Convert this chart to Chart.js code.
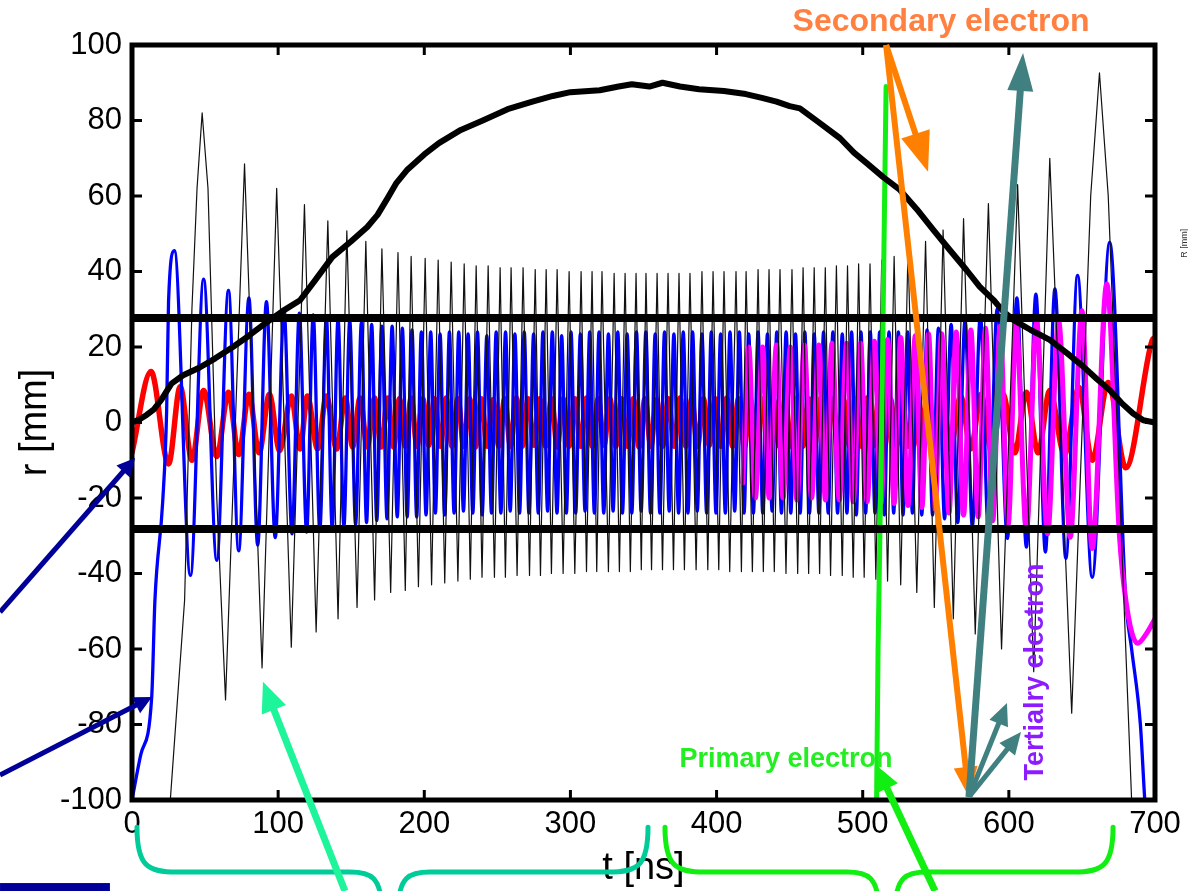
<!DOCTYPE html>
<html>
<head>
<meta charset="utf-8">
<title>r vs t</title>
<script src="https://cdn.jsdelivr.net/npm/chart.js@4.4.1/dist/chart.umd.min.js"></script>
<style>
  html, body { margin: 0; padding: 0; background: #fff; }
  canvas { display: block; }
</style>
</head>
<body>
<canvas id="grafico" width="1188" height="891"></canvas>
<script>
// Valores: t [ns] contra r [mm]
const tTicks = [0, 100, 200, 300, 400, 500, 600, 700];
const rTicks = [-100, -80, -60, -40, -20, 0, 20, 40, 60, 80, 100];

// Envolvente del haz (línea negra gruesa)
const envolvente = [
  [0, 0], [5, 0.8], [10, 2], [15, 3.5], [20, 6], [27, 10.3], [35, 12.5], [46, 14.5], [57, 17], [69, 20],
  [80, 23], [92, 26.5], [103, 29.5], [115, 32.4], [125, 37.5], [137, 43.8], [150, 48], [161, 51.8], [168, 55], [175, 59.5],
  [181, 63.5], [188, 66.8], [200, 71], [210, 74], [225, 77.5], [240, 80], [257, 83], [274, 85], [288, 86.5], [300, 87.5],
  [320, 88], [333, 89], [342, 89.6], [354, 89], [363, 90], [375, 89], [388, 88.3], [405, 87.8], [420, 87], [431, 86],
  [441, 85], [450, 83.8], [457, 83.2], [470, 79.5], [484.5, 75.3], [494, 71.5], [502.7, 68.7], [514, 65], [525.5, 61.6], [537, 56.5],
  [548.3, 51], [560, 45.5], [571, 40.4], [580, 36], [589.4, 32.5], [596, 29.5], [603, 27.2], [615, 24.5], [628, 21.9], [640, 18.3],
  [651, 14.8], [660, 11.6], [669, 8.6], [677, 5.2], [685, 2.4], [692, 0.6], [700, 0]
];

// Paredes a ±28 mm
const paredSup = [[0, 27.7], [700, 27.7]];
const paredInf = [[0, -28.2], [700, -28.2]];

// Trayectoria fina negra
const electronNegro = [
  [24, -112], [36, -47], [41, 30], [44.5, 62], [48, 82], [52, 62], [58, -20],
  [64, -73.5], [77, 68.5], [89, -65], [99, 62], [109, -59.5], [118, 57.7], [126, -55.5], [134, 53.4], [141, -52], [147, 50.8], [154, -49], [160, 48], [166, -47], [171, 46], [177, -45], [182, 45],
  [187, -44.5], [191, 44], [196, -43.5], [200.6, 43.5], [205, -43], [209.5, 43], [214, -42.5], [218.4, 42.5], [223, -42], [227.3, 42],
  [231.5, -41.5], [235.5, 41.5], [239.5, -41], [243.7, 41.5], [248, -41], [251.9, 41], [255.5, -41], [259.4, 41], [263.5, -40.5], [267.6, 41],
  [272, -40.5], [275.9, 40.5], [279.5, -40.5], [283.4, 40.5], [287, -40], [290.9, 40.5], [295, -40], [299.1, 40], [303, -40], [307.3, 40],
  [311, -39.5], [314.8, 40], [318, -39.5], [321.6, 40], [326, -39.5], [329.9, 39.5], [333.5, -39.5], [337.4, 39.5], [341, -39.5], [344.9, 39.5],
  [348.5, -39], [351.7, 39.5], [355.5, -39], [359.3, 39.5], [363, -39], [366.8, 39.5], [370.5, -39], [374.3, 39.5], [378, -39], [381.8, 39.5],
  [386, -39], [390, 40], [394, -39], [397.6, 40], [401.5, -39], [405.1, 40], [409, -39.5], [413.3, 40], [417, -39.5], [420.2, 40],
  [424.5, -39.5], [428.4, 40.5], [432, -39.5], [435.9, 40.5], [439.5, -39.5], [443.4, 40.5], [447.5, -40], [451.6, 40.5], [455.5, -40], [459.2, 41],
  [463, -40], [466.8, 41], [470.5, -40], [474.4, 41], [478, -40.5], [482, 41.5], [486, -40.5], [489.6, 41.5], [493.5, -41], [497.2, 42],
  [501, -41], [505, 42], [509, -41.5], [513, 43], [517, -42], [521.5, 44], [526, -43], [531, 46], [537, -45], [543, 48],
  [549, -49], [555, 51], [562, -52], [569, 54], [577, -56], [586, 58], [595, -60], [606, 63], [617, -66], [628, 70],
  [643, -77], [656, 60], [662, 92.6], [668, 60], [684, -100], [690, -112]
];

// Trayectoria azul
const electronAzul = [
  [0, -100], [6, -88], [13.5, -72.6], [15.7, -47], [21, -21], [23.7, 3], [25, 32], [29, 45.5],
  [40, -40.5], [49, 38], [58, -36.5], [66, 35], [73, -34], [80, 33], [86, -32.5], [92, 32], [98, -30.5], [104, 30],
  [109.5, -29.5], [114.5, 29], [119.5, -29], [124, 28.5], [128.5, -28.5], [133, 28], [137, -28], [141, 27.5], [145, -27.5], [149, 27],
  [153, -27], [157, 26.5], [160.5, -26.5], [164, 26], [167.5, -26], [171, 25.5], [174.5, -25.5], [178, 25.5], [181.5, -25], [185, 25], [188.3, -25],
  [191.6, 24.5], [194.8, -25], [198, 24], [201.2, -24.5], [204.4, 24], [207.6, -24], [210.8, 23.5], [214, -24.5], [217.2, 24], [220.4, -24],
  [223.6, 24], [226.8, -23.5], [230, 23.5], [233.2, -24], [236.4, 24], [239.6, -24.5], [242.8, 23], [246, -24], [249.2, 24], [252.4, -24],
  [255.6, 24], [258.8, -23.5], [262, 23.5], [265.2, -24], [268.4, 24], [271.6, -24], [274.8, 23.5], [278, -24], [281.2, 24], [284.4, -23.5],
  [287.6, 24], [290.8, -24], [294, 23], [297.2, -24], [300.4, 24], [303.6, -24], [306.8, 23.5], [310, -23.5], [313.2, 24], [316.4, -24],
  [319.6, 24], [322.8, -24], [326, 23.5], [329.2, -23.5], [332.4, 24], [335.6, -24], [338.8, 23.5], [342, -24], [345.2, 24], [348.4, -23.5],
  [351.6, 24], [354.8, -24], [358, 23.5], [361.2, -24], [364.4, 24], [367.6, -23.5], [370.8, 23.5], [374, -24], [377.2, 24], [380.4, -24],
  [383.6, 24], [386.8, -23.5], [390, 23.5], [393.2, -24], [396.4, 24], [399.6, -24], [402.8, 23.5], [406, -24], [409.2, 24], [412.4, -23.5],
  [415.6, 24], [418.8, -24], [422, 23.5], [425.2, -24], [428.4, 24], [431.6, -24], [434.8, 23.5], [438, -23.5], [441.2, 24], [444.4, -24],
  [447.6, 24], [450.8, -24], [454, 23.5], [457.2, -24], [460.4, 24], [463.6, -24], [466.8, 23.5], [470, -24], [473.2, 24], [476.4, -24],
  [479.6, 24], [482.8, -24], [486, 23.5], [489.2, -24], [492.4, 24], [495.6, -24.5], [498.8, 24], [502, -24], [505.2, 24], [508.4, -24],
  [511.6, 24], [514.8, -24.5], [518, 24], [521.2, -24], [524.4, 24], [527.6, -24.5], [530.8, 24], [534, -24], [537.2, 24.5], [540.4, -24.5],
  [544, 24.5], [547.8, -24.5], [551.8, 25], [556, -25.5], [560.5, 26], [565, -26.5], [570, 27], [575, -27.5], [580.5, 28.5], [586, -29],
  [592, 30], [599, -30.7], [605.5, 33], [612, -33], [618.5, 34], [625, -34.3], [631.5, 35.4], [639, -36], [647, 39], [657, -41],
  [669, 47.7], [680, -47], [684, -60], [690, -80], [693, -100], [695, -110]
];

// Trayectoria roja
const electronRojo = [
  [0, -8], [13, 13.5], [25, -11], [33, 9.5], [41, -10], [49, 8.5], [58, -9], [66, 8], [73, -8.5], [80, 7.5],
  [87, -8], [94, 7.5], [101, -7.5], [109, 7], [115, -7], [120, 7], [127, -7], [133, 7], [140, -7], [146, 6.5],
  [151, -6.5], [156, 6.5], [161, -6.5], [166, 6.5], [170.5, -6.5], [175, 6.5], [179, -6.5],
  [183, 6.3], [187, -6.3], [191, 6.5], [195, -6.3], [199, 6.3], [203, -6], [207, 6.3], [211, -6.3], [215, 6.5], [219, -6.3],
  [223, 6.3], [227, -6.3], [231, 6.3], [235, -6.5], [239, 6.3], [243, -6.3], [247, 6], [251, -6.3], [255, 6.3], [259, -6.3],
  [263, 6.5], [267, -6.3], [271, 6.3], [275, -6], [279, 6.3], [283, -6.3], [287, 6.3], [291, -6.5], [295, 6.3], [299, -6.3],
  [303, 6.3], [307, -6.3], [311, 6.5], [315, -6.3], [319, 6.3], [323, -6], [327, 6.3], [331, -6.3], [335, 6.3], [339, -6.3],
  [343, 6.3], [347, -6.5], [351, 6.3], [355, -6.3], [359, 6], [363, -6.3], [367, 6.3], [371, -6.3], [375, 6.5], [379, -6.3],
  [383, 6.3], [387, -6.3], [391, 6.3], [395, -6], [399, 6.3], [403, -6.3], [407, 6.5], [411, -6.3], [415, 6.3], [419, -6.5],
  [423, 6.3], [427, -6.3], [431, 6.3], [435, -6.3], [439, 6], [443, -6.3], [447, 6.3], [451, -6.3], [455, 6.5], [459, -6.3],
  [463, 6.3], [467, -6.3], [471, 6.3], [475, -6.5], [479, 6.3], [483, -6.3], [487, 6], [491, -6.3], [495, 6.3], [499, -6.3],
  [503, 6.5], [507, -6.3], [511, 6.3], [515, -6.3], [519, 6.3], [523, -6.3], [527, 6.5], [531, -6.3], [535, 6.3], [539, -6.3],
  [544, 6.5], [549, -6.5], [555, 6.5], [560, -7], [567, 7], [574, -7], [581, 7.5], [588, -7.5], [596, 7.5], [604, -8],
  [612, 8], [620, -8], [628, 8.5], [638, -8.5], [648, 9.3], [657, -10], [668, 10.6], [680, -12], [698, 21.7], [700, 22.5]
];

// Trayectoria magenta
const electronMagenta = [
  [418, -16], [422, 20], [426.5, -20], [431.5, 20], [436, -20], [441, 20.5], [445.5, -20], [450.5, 20], [455, -20.5], [460, 20.5],
  [465, -20], [470, 20.5], [474.5, -20.5], [479, 21], [484, -20.5], [489, 21], [493.5, -21], [498.5, 21], [503, -21], [508, 21.5],
  [512.5, -21.5], [517, 22], [521.5, -21.5], [526, 22.5], [531, -22], [536, 23], [540.5, -22.5], [545, 23.5], [549.5, -23], [554, 23.5],
  [559, -24], [564, 24], [569, -24.5], [574, 24.5], [579, -25], [584, 25], [589, -26], [594, 25.5], [599.5, -27], [605, 26],
  [612, -28.6], [619, 26.5], [626.5, -29.5], [634, 27], [642, -30.4], [650, 29.6], [657, -33.4], [667, 36.7], [675.5, -29], [680, -47],
  [688, -58.5], [694, -56], [700, -52]
];

// Traza del electrón primario (verde)
const primario = [[509.5, -100], [510.5, -60], [513, 0], [515, 60], [516, 89]];

const fuente = '"Liberation Sans", Arial, Helvetica, sans-serif';

const pts = arr => arr.map(([t, r]) => ({ x: t, y: r }));

function serie(datos, color, ancho, orden, suave) {
  return {
    data: pts(datos),
    borderColor: color,
    borderWidth: ancho,
    order: orden,
    pointRadius: 0,
    fill: false,
    tension: 0,
    cubicInterpolationMode: suave ? 'monotone' : 'default',
    borderJoinStyle: 'round',
    borderCapStyle: 'round',
    clip: 0
  };
}

// Anotaciones (en unidades de datos)
const flechas = [
  { de: [516, 100], a: [572.7, -99.2], color: '#ff8000', ancho: 6, cabeza: 30, media: 12 },
  { de: [516, 100], a: [544.7, 66.4], color: '#ff8000', ancho: 6, cabeza: 40, media: 15 },
  { de: [572.7, -99.2], a: [609.7, 97.9], color: '#408080', ancho: 7, cabeza: 38, media: 13 },
  { de: [572.7, -99.2], a: [598.7, -74.3], color: '#408080', ancho: 5, cabeza: 22, media: 10 },
  { de: [572.7, -99.2], a: [608.3, -82], color: '#408080', ancho: 5, cabeza: 22, media: 10 },
  { de: [-90.3, -50.2], a: [2.1, -9.4], color: '#000099', ancho: 5, cabeza: 18, media: 9 },
  { de: [-90.3, -93.4], a: [13.7, -72.7], color: '#000099', ancho: 5, cabeza: 18, media: 9 },
  { de: [145.7, -124.1], a: [89.6, -68.7], color: '#1ef59b', ancho: 7, cabeza: 30, media: 13 },
  { de: [549.5, -124.1], a: [509.1, -90.7], color: '#11ee11', ancho: 7, cabeza: 26, media: 12 }
];

const llaves = [
  { t0: 3.4, t1: 353.1, tc: 176.5, color: '#00cc99' },
  { t0: 364.7, t1: 671.3, tc: 516.6, color: '#11ee11' }
];

const textos = [
  { texto: 'Secondary electron', t: 553.6, r: 103.7, color: '#ff8040', tam: 32, bold: true, giro: 0 },
  { texto: 'Primary electron', t: 447.5, r: -91.3, color: '#22ee22', tam: 27, bold: true, giro: 0 },
  { texto: 'Tertialry electron', t: 623.4, r: -66.1, color: '#8c1cff', tam: 27, bold: true, giro: -Math.PI / 2 },
  { texto: 'R [mm]', t: 721.9, r: 47.5, color: '#333333', tam: 9, bold: false, giro: -Math.PI / 2 }
];

function flecha(ctx, x0, y0, x1, y1, f) {
  const a = Math.atan2(y1 - y0, x1 - x0);
  const bx = x1 - f.cabeza * Math.cos(a), by = y1 - f.cabeza * Math.sin(a);
  ctx.strokeStyle = f.color;
  ctx.fillStyle = f.color;
  ctx.lineWidth = f.ancho;
  ctx.lineCap = 'butt';
  ctx.beginPath();
  ctx.moveTo(x0, y0);
  ctx.lineTo(bx + Math.cos(a) * 2, by + Math.sin(a) * 2);
  ctx.stroke();
  ctx.beginPath();
  ctx.moveTo(x1, y1);
  ctx.lineTo(bx + f.media * Math.sin(a), by - f.media * Math.cos(a));
  ctx.lineTo(bx - f.media * Math.sin(a), by + f.media * Math.cos(a));
  ctx.closePath();
  ctx.fill();
}

const notas = {
  id: 'notas',
  afterDatasetsDraw(chart) {
    const ctx = chart.ctx;
    const { left, right, top, bottom } = chart.chartArea;
    const sx = chart.scales.x, sy = chart.scales.y;
    ctx.save();
    ctx.strokeStyle = '#000';
    ctx.lineWidth = 5;
    ctx.strokeRect(left, top, right - left, bottom - top);
    ctx.lineWidth = 3;
    ctx.beginPath();
    tTicks.forEach(v => {
      const x = sx.getPixelForValue(v);
      ctx.moveTo(x, bottom); ctx.lineTo(x, bottom - 10);
      ctx.moveTo(x, top); ctx.lineTo(x, top + 10);
    });
    rTicks.forEach(v => {
      const y = sy.getPixelForValue(v);
      ctx.moveTo(left, y); ctx.lineTo(left + 10, y);
      ctx.moveTo(right, y); ctx.lineTo(right - 10, y);
    });
    ctx.stroke();
    ctx.restore();
  },
  afterDraw(chart) {
    const ctx = chart.ctx;
    const sx = chart.scales.x, sy = chart.scales.y;
    const X = t => sx.getPixelForValue(t), Y = r => sy.getPixelForValue(r);
    ctx.save();

    // llaves bajo el eje
    llaves.forEach(b => {
      const xl = X(b.t0), xr = X(b.t1), xc = X(b.tc);
      const yt = Y(-107.2), yh = Y(-119.1), yb = Y(-128);
      ctx.strokeStyle = b.color;
      ctx.lineWidth = 5;
      ctx.lineCap = 'round';
      ctx.beginPath();
      ctx.moveTo(xl, yt);
      ctx.bezierCurveTo(xl, yt + (yh - yt) * 0.85, xl + 10, yh, xl + 40, yh);
      ctx.lineTo(xc - 40, yh);
      ctx.bezierCurveTo(xc - 18, yh, xc - 10, yh + 6, xc - 8, yb);
      ctx.moveTo(xc + 8, yb);
      ctx.bezierCurveTo(xc + 10, yh + 6, xc + 18, yh, xc + 40, yh);
      ctx.lineTo(xr - 40, yh);
      ctx.bezierCurveTo(xr - 10, yh, xr, yt + (yh - yt) * 0.85, xr, yt);
      ctx.stroke();
    });

    // barra azul oscuro abajo a la izquierda
    ctx.fillStyle = '#000099';
    ctx.fillRect(X(-90.3), Y(-122), X(-15.1) - X(-90.3), Y(-124.5) - Y(-122));

    flechas.forEach(f => flecha(ctx, X(f.de[0]), Y(f.de[1]), X(f.a[0]), Y(f.a[1]), f));

    textos.forEach(tx => {
      ctx.save();
      ctx.translate(X(tx.t), Y(tx.r));
      ctx.rotate(tx.giro);
      ctx.font = (tx.bold ? 'bold ' : '') + tx.tam + 'px ' + fuente;
      ctx.fillStyle = tx.color;
      ctx.textAlign = 'center';
      ctx.textBaseline = 'alphabetic';
      ctx.fillText(tx.texto, 0, 0);
      ctx.restore();
    });
    ctx.restore();
  }
};

const config = {
  type: 'line',
  data: {
    datasets: [
      serie(envolvente, '#000000', 6, 0, false),
      serie(paredSup, '#000000', 8, 1, false),
      serie(paredInf, '#000000', 8, 1, false),
      serie(primario, '#11ee11', 5, 2, false),
      serie(electronNegro, '#111111', 1.2, 3, false),
      serie(electronMagenta, '#ff00ff', 5, 4, true),
      serie(electronAzul, '#0000ff', 3.3, 5, true),
      serie(electronRojo, '#ff0000', 5.5, 6, true)
    ]
  },
  options: {
    responsive: false,
    animation: false,
    devicePixelRatio: 1,
    layout: { padding: { left: 0, top: 45, right: 33, bottom: 0 }, autoPadding: false },
    plugins: {
      legend: { display: false },
      tooltip: { enabled: false }
    },
    scales: {
      x: {
        type: 'linear',
        min: 0,
        max: 700,
        afterFit: s => { s.height = 91; },
        grid: { display: false, drawTicks: false },
        border: { display: false },
        ticks: { stepSize: 100, autoSkip: false, maxRotation: 0, padding: 6, color: '#000', font: { family: fuente, size: 31 } },
        title: { display: true, text: 't [ns]', color: '#000', padding: 0, font: { family: fuente, size: 38 } }
      },
      y: {
        type: 'linear',
        min: -100,
        max: 100,
        afterFit: s => { s.width = 132; },
        grid: { display: false, drawTicks: false },
        border: { display: false },
        ticks: { stepSize: 20, autoSkip: false, padding: 10, color: '#000', font: { family: fuente, size: 31 } },
        title: { display: true, text: 'r [mm]', color: '#000', padding: { top: 13, bottom: 0 }, font: { family: fuente, size: 38 } }
      }
    }
  },
  plugins: [notas]
};

new Chart(document.getElementById('grafico'), config);
</script>
</body>
</html>
